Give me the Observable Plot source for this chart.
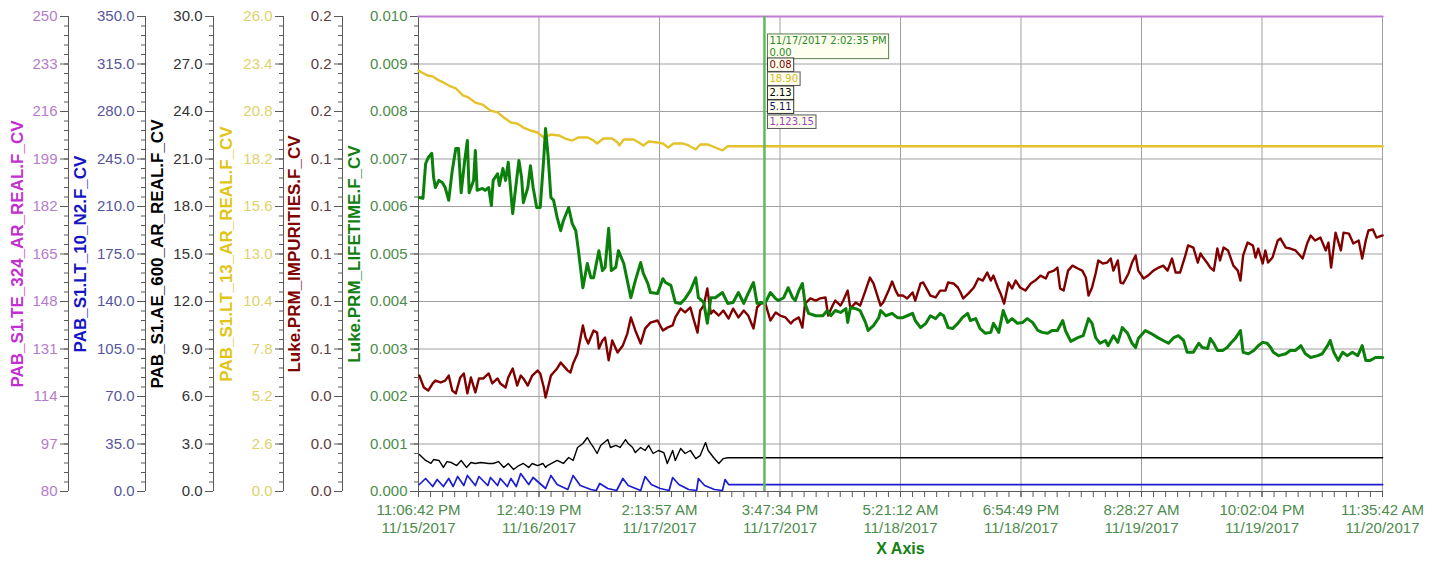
<!DOCTYPE html>
<html>
<head>
<meta charset="utf-8">
<script src="https://cdn.jsdelivr.net/npm/d3@7"></script>
<script src="https://cdn.jsdelivr.net/npm/@observablehq/plot@0.6"></script>
<style>
html,body{margin:0;padding:0;background:#fff;}
#chart{width:1442px;height:568px;}
</style>
</head>
<body>
<div id="chart"></div>
<script>
// ---------- X axis tick labels ----------
const xTickTimes = ["11:06:42 PM","12:40:19 PM","2:13:57 AM","3:47:34 PM","5:21:12 AM","6:54:49 PM","8:28:27 AM","10:02:04 PM","11:35:42 AM"];
const xTickDays  = ["11/15/2017","11/16/2017","11/17/2017","11/17/2017","11/18/2017","11/18/2017","11/19/2017","11/19/2017","11/20/2017"];
const xAxisTitle = "X Axis";
const cursorLabel = "11/17/2017 2:02:35 PM";

// ---------- Y axis tick values (native units) ----------
const te324Ticks = [80,97,114,131,148,165,182,199,216,233,250];
const n2Ticks    = [0,35,70,105,140,175,210,245,280,315,350];
const ae600Ticks = [0,3,6,9,12,15,18,21,24,27,30];
const lt13Ticks  = [0,2.6,5.2,7.8,10.4,13,15.6,18.2,20.8,23.4,26];
const impTicks   = [0,0.02,0.04,0.06,0.08,0.1,0.12,0.14,0.16,0.18,0.2];
const lifeTicks  = [0,0.001,0.002,0.003,0.004,0.005,0.006,0.007,0.008,0.009,0.01];

// ---------- Series: [hours since 11/15/2017 11:06:42 PM, value] ----------
const te324 = [[0,1123.15],[108.5,1123.15]];

const n2 = [[0.1,5.16],[0.8,9.58],[1.6,3.68],[2.1,8.84],[2.8,3.68],[3.4,9.58],[3.9,3.68],[4.4,11.05],[5.1,4.42],[5.5,11.79],[6.4,4.42],[6.8,11.05],[7.8,4.42],[8.1,10.32],[8.9,4.42],[9.2,9.58],[10.0,3.68],[10.4,9.58],[11.0,3.68],[11.5,13.26],[12.4,5.16],[12.9,10.32],[14.3,2.21],[14.9,11.79],[15.6,5.16],[16.8,1.47],[17.4,11.79],[18.2,4.42],[19.4,1.47],[20.0,0.74],[20.4,5.89],[21.3,2.21],[22.3,0.74],[23.0,9.58],[23.6,4.42],[25.0,0.74],[25.5,11.05],[26.2,5.16],[27.2,2.21],[28.2,0.74],[28.6,10.32],[29.3,5.16],[30.4,1.47],[31.3,0.74],[31.5,9.58],[32.2,4.42],[33.3,1.47],[34.2,0.74],[34.5,8.84],[34.9,5.11],[108.5,5.11]];

const ae600 = [[0.1,2.34],[0.8,1.96],[1.4,1.77],[1.7,2.02],[2.3,1.96],[2.8,1.52],[3.2,1.89],[3.7,1.83],[4.3,1.64],[4.8,1.96],[5.4,1.52],[5.9,1.83],[6.4,1.77],[7.0,1.83],[7.9,1.77],[8.4,1.77],[9.0,1.89],[9.6,1.52],[10.1,1.77],[10.7,1.39],[11.3,1.64],[11.8,1.77],[12.4,1.52],[12.8,1.77],[13.4,1.64],[14.0,1.77],[14.3,1.52],[14.5,1.64],[15.6,1.96],[16.3,1.77],[16.9,2.15],[17.4,1.96],[17.9,2.78],[18.5,3.03],[19.0,3.41],[19.4,3.03],[19.7,2.78],[20.1,2.40],[20.5,2.91],[21.3,3.28],[21.6,2.78],[22.2,2.91],[22.7,2.78],[23.3,3.28],[23.6,3.03],[24.1,2.78],[24.4,2.46],[25.0,2.78],[25.5,2.59],[25.9,2.91],[26.4,2.40],[27.0,2.59],[27.6,2.46],[28.0,1.77],[28.6,2.59],[28.9,1.96],[29.5,2.72],[30.0,2.40],[30.6,2.59],[31.2,2.08],[31.7,2.27],[32.3,3.09],[32.6,2.59],[33.2,2.15],[33.8,1.77],[34.3,2.08],[34.8,2.13],[108.5,2.13]];

const lt13 = [[0.0,23.04],[1.0,22.77],[1.6,22.72],[2.3,22.50],[2.8,22.39],[3.6,22.17],[4.2,22.06],[5.0,21.68],[5.6,21.57],[6.4,21.29],[7.2,21.18],[8.1,20.85],[8.9,20.75],[9.6,20.47],[10.4,20.20],[11.1,20.14],[11.8,19.92],[12.6,19.76],[13.4,19.65],[14.1,19.38],[14.9,19.54],[15.8,19.49],[16.5,19.32],[17.3,19.21],[18.0,19.38],[19.0,19.38],[19.7,19.21],[20.1,19.05],[20.8,19.32],[21.8,19.32],[22.4,19.10],[22.6,18.94],[23.1,19.27],[24.2,19.27],[24.8,19.10],[25.3,18.94],[25.9,19.16],[26.9,19.10],[27.5,19.05],[28.1,18.83],[28.7,19.05],[29.7,19.05],[30.4,18.94],[31.2,18.72],[31.7,18.99],[32.6,18.99],[33.4,18.83],[34.2,18.67],[34.8,18.90],[108.5,18.90]];

const impurities = [[0.1,.0488],[0.6,.0438],[1.1,.0425],[1.6,.0455],[1.9,.0467],[2.5,.0459],[3.0,.0467],[3.4,.0488],[3.8,.0425],[4.2,.0413],[4.7,.0480],[5.1,.0497],[5.5,.0413],[5.9,.0480],[6.4,.0417],[6.8,.0476],[7.3,.0476],[7.9,.0497],[8.3,.0455],[8.9,.0476],[9.2,.0455],[9.8,.0438],[10.1,.0480],[10.6,.0518],[10.9,.0476],[11.1,.0446],[11.5,.0488],[11.8,.0476],[12.3,.0446],[12.8,.0488],[13.4,.0509],[13.7,.0497],[14.1,.0438],[14.3,.0396],[14.5,.0425],[14.9,.0488],[15.2,.0501],[15.6,.0518],[16.0,.0543],[16.3,.0530],[16.8,.0509],[17.1,.0501],[17.4,.0539],[17.9,.0581],[18.5,.0699],[18.8,.0648],[19.1,.0623],[19.7,.0678],[20.1,.0669],[20.3,.0602],[20.7,.0636],[21.0,.0648],[21.4,.0552],[21.8,.0636],[22.4,.0585],[23.0,.0615],[23.5,.0665],[23.9,.0733],[24.4,.0678],[25.0,.0623],[25.5,.0686],[26.1,.0711],[26.9,.0720],[27.5,.0678],[28.0,.0690],[28.6,.0699],[28.9,.0733],[29.5,.0770],[30.0,.0754],[30.6,.0775],[30.9,.0733],[31.4,.0669],[31.7,.0762],[32.1,.0783],[32.5,.0855],[32.9,.0749],[33.2,.0762],[33.8,.0741],[34.3,.0762],[34.9,.0728],[35.4,.0770],[36.0,.0733],[36.6,.0762],[37.1,.0741],[37.7,.0686],[38.1,.0775],[38.5,.0791],[39.0,.0796],[39.6,.0720],[40.2,.0754],[40.7,.0741],[41.3,.0733],[41.9,.0707],[42.2,.0720],[42.8,.0733],[43.2,.0690],[43.5,.0791],[44.1,.0813],[44.7,.0804],[45.2,.0813],[45.8,.0817],[46.1,.0741],[46.6,.0783],[46.9,.0804],[47.5,.0783],[47.8,.0804],[48.3,.0846],[48.6,.0770],[49.2,.0796],[49.7,.0783],[50.3,.0846],[50.8,.0901],[51.2,.0876],[51.7,.0817],[52.0,.0783],[52.3,.0796],[52.9,.0846],[53.3,.0884],[53.7,.0846],[54.0,.0825],[54.5,.0825],[55.0,.0813],[55.6,.0838],[55.9,.0804],[56.5,.0876],[56.8,.0880],[57.3,.0846],[57.6,.0825],[58.2,.0817],[58.7,.0846],[59.3,.0846],[59.6,.0880],[60.2,.0876],[60.7,.0859],[61.0,.0838],[61.3,.0813],[61.9,.0834],[62.5,.0859],[63.0,.0897],[63.5,.0888],[64.0,.0922],[64.4,.0888],[64.7,.0909],[65.2,.0859],[65.5,.0834],[65.9,.0791],[66.4,.0880],[66.8,.0855],[67.2,.0888],[67.7,.0859],[68.3,.0846],[68.9,.0876],[69.4,.0888],[70.0,.0909],[70.6,.0897],[70.9,.0922],[71.5,.0930],[71.9,.0943],[72.2,.0855],[72.6,.0846],[73.1,.0930],[73.6,.0951],[74.2,.0939],[74.7,.0930],[75.1,.0901],[75.4,.0825],[75.8,.0859],[76.2,.0918],[76.5,.0973],[77.0,.0960],[77.5,.0964],[77.9,.0981],[78.2,.0930],[78.7,.0973],[79.0,.0880],[79.3,.0876],[79.9,.0918],[80.3,.0964],[80.7,.0994],[81.0,.0930],[81.6,.0897],[82.1,.0909],[82.7,.0930],[83.3,.0943],[83.8,.0951],[84.3,.0930],[84.8,.0981],[85.2,.0922],[85.7,.0922],[86.3,.0994],[86.6,.1036],[87.2,.1027],[87.7,.0964],[88.0,.1002],[88.3,.0985],[88.8,.0960],[89.1,.0943],[89.5,.0930],[89.9,.1023],[90.2,.0973],[90.6,.1027],[91.1,.1015],[91.7,.0951],[92.2,.0930],[92.5,.0888],[92.8,.0994],[93.3,.1048],[93.9,.1036],[94.2,.0985],[94.5,.1023],[95.0,.0960],[95.3,.1015],[95.6,.0964],[96.1,.0985],[96.7,.1057],[97.0,.1065],[97.6,.1027],[98.1,.1023],[98.7,.1015],[99.5,.0981],[100.0,.1044],[100.4,.1078],[100.9,.1057],[101.5,.1069],[102.1,.1015],[102.4,.1048],[102.7,.0943],[103.2,.1090],[103.8,.1015],[104.1,.1090],[104.7,.1086],[105.2,.1044],[105.8,.1057],[106.2,.0981],[106.6,.1057],[106.9,.1099],[107.4,.1103],[107.8,.1069],[108.5,.1078]];

const lifetime = [[0.1,.00619],[0.5,.00617],[0.8,.00690],[1.1,.00703],[1.5,.00712],[1.7,.00661],[1.9,.00640],[2.3,.00655],[2.7,.00650],[3.0,.00640],[3.4,.00613],[3.8,.00676],[4.2,.00722],[4.5,.00722],[4.8,.00629],[5.2,.00697],[5.5,.00739],[5.7,.00629],[6.2,.00655],[6.4,.00718],[6.6,.00634],[7.2,.00638],[7.5,.00634],[7.9,.00640],[8.2,.00602],[8.4,.00655],[8.9,.00669],[9.1,.00644],[9.5,.00680],[9.8,.00655],[10.1,.00693],[10.6,.00585],[10.9,.00634],[11.3,.00697],[11.6,.00661],[11.8,.00608],[12.3,.00640],[12.6,.00686],[12.9,.00640],[13.3,.00598],[13.7,.00598],[14.1,.00703],[14.3,.00764],[14.6,.00703],[14.9,.00619],[15.2,.00613],[15.6,.00577],[16.0,.00549],[16.3,.00570],[16.9,.00598],[17.3,.00564],[17.7,.00549],[18.0,.00507],[18.5,.00429],[19.0,.00480],[19.4,.00450],[19.7,.00450],[20.3,.00507],[20.7,.00465],[21.0,.00472],[21.4,.00554],[21.7,.00465],[22.2,.00472],[22.5,.00507],[23.1,.00480],[23.5,.00444],[23.9,.00408],[24.4,.00444],[25.0,.00482],[25.3,.00459],[25.8,.00438],[26.1,.00419],[26.9,.00417],[27.5,.00448],[27.8,.00440],[28.4,.00434],[28.9,.00398],[29.5,.00396],[30.0,.00406],[30.6,.00423],[31.2,.00450],[31.5,.00408],[32.1,.00398],[32.5,.00354],[32.9,.00408],[33.4,.00408],[34.2,.00419],[34.8,.00396],[35.4,.00398],[36.0,.00419],[36.6,.00396],[37.1,.00417],[37.7,.00440],[38.1,.00396],[38.5,.00398],[39.0,.00396],[39.6,.00419],[40.2,.00406],[40.5,.00402],[41.1,.00408],[41.6,.00429],[42.1,.00408],[42.4,.00402],[42.8,.00423],[43.2,.00438],[43.5,.00396],[43.9,.00375],[44.7,.00370],[45.5,.00370],[46.0,.00381],[46.4,.00370],[46.9,.00381],[47.5,.00377],[48.1,.00385],[48.3,.00356],[48.6,.00387],[49.2,.00385],[49.7,.00381],[50.3,.00356],[50.6,.00339],[51.2,.00349],[51.8,.00366],[52.0,.00381],[52.6,.00370],[53.3,.00375],[53.9,.00366],[54.5,.00366],[55.0,.00370],[55.6,.00375],[55.9,.00360],[56.5,.00345],[57.1,.00354],[57.6,.00370],[58.2,.00364],[58.7,.00375],[59.1,.00370],[59.6,.00345],[60.1,.00343],[60.7,.00354],[61.2,.00366],[61.8,.00375],[62.1,.00360],[62.7,.00364],[63.2,.00343],[63.8,.00333],[64.4,.00335],[64.7,.00354],[65.3,.00335],[65.8,.00381],[66.3,.00356],[66.8,.00364],[67.4,.00354],[68.0,.00356],[68.5,.00364],[69.1,.00356],[69.7,.00339],[70.2,.00335],[70.8,.00333],[71.3,.00339],[71.9,.00339],[72.5,.00360],[72.8,.00339],[73.4,.00316],[74.2,.00324],[74.8,.00328],[75.4,.00364],[75.8,.00354],[76.2,.00324],[76.7,.00312],[77.3,.00318],[77.6,.00307],[78.2,.00328],[78.7,.00314],[79.2,.00345],[79.8,.00333],[80.3,.00312],[80.7,.00303],[81.0,.00322],[81.8,.00339],[82.4,.00333],[83.2,.00324],[83.8,.00318],[84.4,.00312],[85.0,.00324],[85.5,.00328],[86.1,.00318],[86.5,.00293],[87.2,.00293],[87.8,.00312],[88.2,.00303],[88.8,.00301],[89.1,.00322],[89.5,.00312],[89.9,.00297],[90.5,.00297],[91.0,.00303],[91.4,.00312],[91.9,.00322],[92.5,.00339],[92.8,.00293],[93.4,.00290],[94.0,.00297],[94.5,.00307],[95.0,.00314],[95.5,.00312],[95.9,.00303],[96.2,.00293],[96.8,.00286],[97.6,.00290],[98.1,.00297],[98.7,.00297],[99.3,.00307],[99.8,.00290],[100.4,.00282],[101.2,.00286],[101.7,.00290],[102.3,.00307],[102.6,.00318],[103.0,.00293],[103.5,.00276],[104.0,.00293],[104.5,.00286],[105.1,.00293],[105.7,.00286],[106.2,.00307],[106.6,.00276],[107.1,.00276],[107.7,.00282],[108.5,.00282]];

// ---------- Build ----------
const parseTick = d3.timeParse("%I:%M:%S %p %m/%d/%Y");
const xTicks = xTickTimes.map((t, i) => parseTick(`${t} ${xTickDays[i]}`));
const tickText = new Map(xTicks.map((d, i) => [+d, `${xTickTimes[i]}\n${xTickDays[i]}`]));
const t0 = xTicks[0], t1 = xTicks[xTicks.length - 1];
const at = h => new Date(+t0 + h * 3600e3);
const cursorDate = d3.timeParse("%m/%d/%Y %I:%M:%S %p")(cursorLabel);
const cursorH = (cursorDate - t0) / 3600e3;

const G = 0.01; // main (lifetime) y domain top; every other axis is mapped onto it
const FRAME_LEFT = 418;

const axes = [
  {key:"te",   title:"PAB_S1.TE_324_AR_REAL.F_CV", data:te324,      ticks:te324Ticks, fmt:d3.format("d"),   titleColor:"#c030d0", tickColor:"#b47ccc", lineColor:"#c27ad8", lineWidth:2.2, tipColor:"#a040c0", boxStroke:"#555", axisPos:68,  titlePos:17},
  {key:"n2",   title:"PAB_S1.LT_10_N2.F_CV",       data:n2,         ticks:n2Ticks,    fmt:d3.format(".1f"), titleColor:"#1414c4", tickColor:"#56569c", lineColor:"#1c1cd0", lineWidth:1.7, tipColor:"#141470", boxStroke:"#333", axisPos:145, titlePos:80},
  {key:"ae",   title:"PAB_S1.AE_600_AR_REAL.F_CV", data:ae600,      ticks:ae600Ticks, fmt:d3.format(".1f"), titleColor:"#000000", tickColor:"#333333", lineColor:"#000000", lineWidth:1.4, tipColor:"#000000", boxStroke:"#333", axisPos:213, titlePos:157},
  {key:"lt13", title:"PAB_S1.LT_13_AR_REAL.F_CV",  data:lt13,       ticks:lt13Ticks,  fmt:d3.format(".1f"), titleColor:"#e2c414", tickColor:"#e0d26a", lineColor:"#e4c22a", lineWidth:2.4, tipColor:"#d8b818", boxStroke:"#555", axisPos:283, titlePos:226},
  {key:"imp",  title:"Luke.PRM_IMPURITIES.F_CV",   data:impurities, ticks:impTicks,   fmt:d3.format(".1f"), titleColor:"#800000", tickColor:"#5c3c3c", lineColor:"#800000", lineWidth:2.4, tipColor:"#800000", boxStroke:"#333", axisPos:342, titlePos:294},
  {key:"life", title:"Luke.PRM_LIFETIME.F_CV",     data:lifetime,   ticks:lifeTicks,  fmt:d3.format(".3f"), titleColor:"#108010", tickColor:"#4c8c4c", lineColor:"#0b800b", lineWidth:3,   tipColor:"#2a8a2a", boxStroke:"#5a7a4a", axisPos:418, titlePos:354}
];
for (const a of axes) {
  a.lo = a.ticks[0]; a.hi = a.ticks[a.ticks.length - 1];
  a.toG = v => (Math.min(Math.max(v, a.lo), a.hi) - a.lo) / (a.hi - a.lo) * G;
}
const byKey = Object.fromEntries(axes.map(a => [a.key, a]));

const minorG = d3.range(0, 51).map(i => i * G / 50);
const minorX = d3.range(0, 81).map(i => new Date(+t0 + i * (t1 - t0) / 80));
const GRID = "#a0a0a0", AXIS = "#5a5a5a";

const marks = [];
marks.push(Plot.gridX(xTicks, {stroke: GRID, strokeOpacity: 1}));
marks.push(Plot.gridY(lifeTicks.slice(1), {stroke: GRID, strokeOpacity: 1}));

// vertical axes
for (const a of axes) {
  const dx = a.axisPos - FRAME_LEFT;
  marks.push(Plot.ruleX([t0], {dx, stroke: AXIS}));
  marks.push(Plot.axisY(minorG, {anchor: "left", dx, tickSize: 4, tickFormat: () => "", stroke: AXIS, label: null}));
  marks.push(Plot.axisY(a.ticks.map(a.toG), {
    anchor: "left", dx, tickSize: 8, tickPadding: 3,
    tickFormat: d => a.fmt(a.lo + d / G * (a.hi - a.lo)),
    stroke: AXIS, fill: a.tickColor, fontSize: 15, label: null
  }));
  marks.push(Plot.text([a.title], {
    text: d => d, frameAnchor: "left", textAnchor: "middle", dx: a.titlePos - FRAME_LEFT, rotate: -90,
    fill: a.titleColor, fontWeight: "bold", fontSize: 17
  }));
}

// x axis
marks.push(Plot.ruleY([0], {stroke: AXIS}));
marks.push(Plot.axisX(minorX, {tickSize: 6, tickFormat: () => "", stroke: AXIS, label: null}));
marks.push(Plot.axisX(xTicks, {
  tickSize: 6, tickPadding: 5, tickFormat: d => tickText.get(+d),
  stroke: AXIS, fill: "#4c8c4c", fontSize: 15, lineHeight: 1.2, label: null
}));
marks.push(Plot.text([xAxisTitle], {text: d => d, frameAnchor: "bottom", dy: 62, fill: "#108010", fontWeight: "bold", fontSize: 16}));

// series lines
for (const a of axes) {
  marks.push(Plot.line(a.data, {
    x: d => at(d[0]), y: d => a.toG(d[1]),
    stroke: a.lineColor, strokeWidth: a.lineWidth, strokeLinejoin: "round"
  }));
}

// cursor
marks.push(Plot.ruleX([cursorDate], {stroke: "#62b862", strokeWidth: 2.5}));

const valueAt = data => { let v = data[0][1]; for (const [h, y] of data) if (h <= cursorH) v = y; return v; };
const fmt2 = d3.format(",.2f");
const tipOrder = ["life", "imp", "lt13", "ae", "n2", "te"];
const tipDy = [20, 44, 58, 72, 86, 101];
tipOrder.forEach((k, i) => {
  const a = byKey[k];
  const s = fmt2(valueAt(a.data));
  marks.push(Plot.text([i === 0 ? `${cursorLabel}\n${s}` : s], {
    text: d => d, x: () => cursorDate, frameAnchor: "top", dy: tipDy[i], dx: 5,
    textAnchor: "start", lineAnchor: "top", lineHeight: 1.12,
    fill: a.tipColor, fontSize: 10, fontFamily: "DejaVu Sans, sans-serif",
    ariaDescription: "cursor value " + a.key
  }));
});

const chart = Plot.plot({
  width: 1442, height: 568,
  marginLeft: FRAME_LEFT, marginRight: 60, marginTop: 16, marginBottom: 77,
  style: {fontFamily: "'Liberation Sans', Arial, sans-serif", fontSize: "15px", background: "#fff", overflow: "visible"},
  x: {type: "time", domain: [t0, t1], axis: null},
  y: {domain: [0, G], axis: null},
  marks
});
document.getElementById("chart").appendChild(chart);

// boxes behind cursor value labels
chart.querySelectorAll('g[aria-description^="cursor value"]').forEach(g => {
  const a = byKey[g.getAttribute("aria-description").split(" ").pop()];
  g.querySelectorAll("text").forEach(t => {
    const bb = t.getBBox();
    const r = document.createElementNS("http://www.w3.org/2000/svg", "rect");
    const tr = t.getAttribute("transform");
    if (tr) r.setAttribute("transform", tr);
    r.setAttribute("x", bb.x - 2);
    r.setAttribute("y", bb.y - 1.5);
    r.setAttribute("width", bb.width + 4);
    r.setAttribute("height", bb.height + 2.5);
    r.setAttribute("fill", "#fffff0");
    r.setAttribute("stroke", a.boxStroke);
    r.setAttribute("stroke-width", "1");
    t.parentNode.insertBefore(r, t);
  });
});
</script>
</body>
</html>
